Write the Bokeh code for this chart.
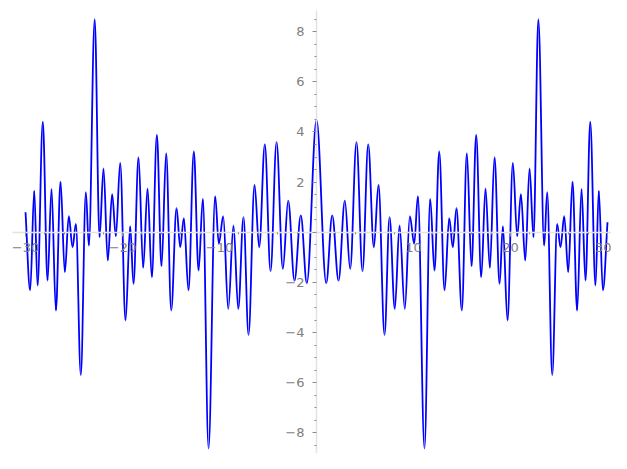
from bokeh.plotting import figure
from bokeh.models import Range1d, FixedTicker, ColumnDataSource
from bokeh.embed import file_html
from bokeh.resources import INLINE

# Extrema (right half, x >= 0); the curve is symmetric about x = 0
x_right = [0.0, 1.00, 1.62, 2.27, 2.92, 3.47, 4.12, 4.74, 5.33, 5.91, 6.39, 7.01, 7.53,
           8.07, 8.56, 9.10, 9.62, 10.07, 10.45, 11.13, 11.72, 12.16, 12.65, 13.20, 13.68,
           14.05, 14.43, 14.98, 15.50, 15.98, 16.46, 16.98, 17.42, 17.87, 18.35, 18.87,
           19.21, 19.69, 20.24, 20.69, 21.07, 21.52, 21.96, 22.37, 22.87, 23.47, 23.78,
           24.30, 24.81, 25.15, 25.54, 25.95, 26.39, 26.87, 27.32, 27.73, 28.22, 28.76,
           29.10, 29.52, 30.0]
y_right = [4.48, -2.03, 0.67, -1.93, 1.26, -1.46, 3.59, -1.55, 3.50, -0.60, 1.90, -4.09, 0.60,
           -3.06, 0.27, -3.06, 0.64, -0.46, 1.44, -8.62, 1.33, -1.53, 3.22, -2.32, 0.56,
           -0.60, 0.96, -3.12, 3.15, -1.36, 3.88, -1.79, 1.75, -1.42, 2.99, -2.06,
           0.24, -3.52, 2.77, -0.16, 1.52, -1.13, 2.55, -0.20, 8.50, -0.53, 1.60,
           -5.69, 0.33, -0.60, 0.64, -1.59, 2.02, -3.12, 1.73, -1.93, 4.41, -2.13,
           1.66, -2.32, 0.40]
y_left_end = 0.8  # value read at x = -30

x_ticks = [-30, -20, -10, 0, 10, 20, 30]
y_ticks = [-8, -6, -4, -2, 0, 2, 4, 6, 8]

xs = [-x for x in reversed(x_right)] + x_right[1:]
ys = list(reversed(y_right)) + y_right[1:]
ys[0] = y_left_end

# Smooth segments between successive extrema: flat tangents at each extremum,
# straight tangents at the two open ends of the curve.
k = 0.36
n = len(xs) - 1
x0, y0, x1, y1 = xs[:-1], ys[:-1], xs[1:], ys[1:]
cx0, cy0, cx1, cy1 = [], [], [], []
for i in range(n):
    dx = x1[i] - x0[i]
    cx0.append(x0[i] + k * dx)
    cx1.append(x1[i] - k * dx)
    cy0.append(y0[i] if i > 0 else y0[i] + k * (y1[i] - y0[i]))
    cy1.append(y1[i] if i < n - 1 else y1[i] - k * (y1[i] - y0[i]))
src = ColumnDataSource(dict(x0=x0, y0=y0, x1=x1, y1=y1, cx0=cx0, cy0=cy0, cx1=cx1, cy1=cy1))

p = figure(width=611, height=453, x_range=Range1d(-32.58, 30.41),
           y_range=Range1d(-8.82, 9.24), output_backend="svg",
           toolbar_location=None, min_border=0)
p.outline_line_color = None
p.grid.visible = False
p.background_fill_color = "white"

p.bezier(x0="x0", y0="y0", x1="x1", y1="y1", cx0="cx0", cy0="cy0", cx1="cx1", cy1="cy1",
         source=src, line_color="#0000ff", line_width=1.8)

minor_x = [v * 2 for v in range(-15, 16) if v * 2 not in x_ticks]
minor_y = [v * 0.5 for v in range(-17, 18) if v % 4 != 0]

for ax, ticks, minor in ((p.xaxis[0], x_ticks, minor_x), (p.yaxis[0], y_ticks, minor_y)):
    ax.fixed_location = 0
    ax.ticker = FixedTicker(ticks=ticks, minor_ticks=minor)
    ax.major_label_overrides = {t: ("" if t == 0 else str(t).replace("-", "\u2212")) for t in ticks}
    ax.axis_line_color = "#e3e3e3"
    ax.axis_line_width = 1.5
    ax.major_tick_line_color = "#8c8c8c"
    ax.minor_tick_line_color = "#8c8c8c"
    ax.major_tick_out = 4
    ax.major_tick_in = 0
    ax.minor_tick_out = 2
    ax.minor_tick_in = 0
    ax.major_label_text_color = "#808080"
    ax.major_label_text_font = "DejaVu Sans"
    ax.major_label_text_font_size = "13px"

p.xaxis.major_label_standoff = 7
p.yaxis.major_label_standoff = 8
p.xaxis.bounds = (-31.34, 30.41)
p.yaxis.bounds = (-8.82, 8.84)

open("out.html", "w").write(file_html(p, INLINE))
